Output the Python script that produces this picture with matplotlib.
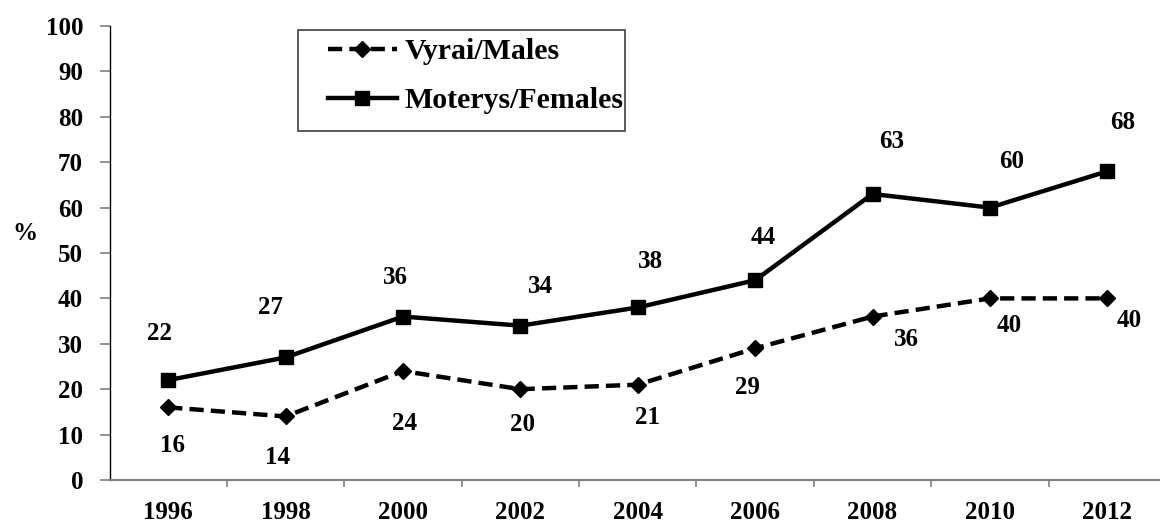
import matplotlib
matplotlib.use("Agg")
import matplotlib.pyplot as plt
from matplotlib.patches import Rectangle
from matplotlib.ticker import FixedLocator, NullFormatter

plt.rcParams['font.family'] = ['Liberation Serif', 'DejaVu Serif']
plt.rcParams['font.weight'] = 'bold'

years = ['1996', '1998', '2000', '2002', '2004', '2006', '2008', '2010', '2012']
males = [16, 14, 24, 20, 21, 29, 36, 40, 40]
females = [22, 27, 36, 34, 38, 44, 63, 60, 68]
males_label = 'Vyrai/Males'
females_label = 'Moterys/Females'

# label offsets in pixels (dx, dy) relative to the point (up positive)
fem_off = [(-9, 47), (-15, 50), (-8, 39), (20, 39), (13, 46), (8, 43), (19, 52), (22, 46), (15, 49)]
mal_off = [(4, -38), (-8, -41), (2, -52), (2, -35), (10, -33), (-8, -39), (34, -23), (19, -27), (22, -22)]

W, H = 1160, 522
fig = plt.figure(figsize=(W / 100, H / 100), dpi=100)
x0, x1 = 109.5, 1166.0
y0, y1 = 480.0, 26.0
ax = fig.add_axes([x0 / W, 1 - y0 / H, (x1 - x0) / W, (y0 - y1) / H])

xs = list(range(len(years)))
ln_m, = ax.plot(xs, males, color='black', lw=3.2, linestyle=(0, (3.2, 1.6)),
                marker='D', markersize=8, label=males_label, clip_on=False)
ln_f, = ax.plot(xs, females, color='black', lw=3.2, linestyle='-',
                marker='s', markersize=9.5, label=females_label, clip_on=False)

ax.set_xlim(-0.5, len(years) - 0.5)
ax.set_ylim(0, 100)
ax.set_yticks(range(0, 101, 10))
ax.set_xticks(xs)
ax.set_xticklabels(years)
ax.xaxis.set_minor_locator(FixedLocator([i + 0.5 for i in range(len(years) - 1)]))
ax.xaxis.set_minor_formatter(NullFormatter())

for s in ['top', 'right']:
    ax.spines[s].set_visible(False)
ax.spines['left'].set_color('black')
ax.spines['left'].set_linewidth(1.0)
ax.spines['bottom'].set_color('#808080')
ax.spines['bottom'].set_linewidth(1.5)

ax.tick_params(axis='y', direction='out', length=7, width=1.2, color='#808080',
               pad=12, labelsize=18)
ax.tick_params(axis='x', which='major', length=0, pad=15, labelsize=18)
ax.tick_params(axis='x', which='minor', direction='out', length=5, width=1.2, color='#808080')
for lab in ax.get_xticklabels() + ax.get_yticklabels():
    lab.set_fontweight('bold')

for i, v in enumerate(females):
    dx, dy = fem_off[i]
    ax.annotate(str(v), (xs[i], v), xytext=(dx, dy), textcoords='offset pixels',
                ha='center', va='center', fontsize=18, fontweight='bold',
                annotation_clip=False)
for i, v in enumerate(males):
    dx, dy = mal_off[i]
    ax.annotate(str(v), (xs[i], v), xytext=(dx, dy), textcoords='offset pixels',
                ha='center', va='center', fontsize=18, fontweight='bold',
                annotation_clip=False)

fig.text(25 / W, 1 - 233 / H, '%', ha='center', va='center', fontsize=18, fontweight='bold')

# legend
leg = fig.legend(handles=[ln_m, ln_f], loc='upper left',
                 bbox_to_anchor=(328 / W, 1 - 38 / H), frameon=False,
                 prop={'family': ['Liberation Serif'], 'weight': 'bold', 'size': 21.5},
                 handlelength=2.3, handletextpad=0.25, labelspacing=0.75,
                 borderpad=0, borderaxespad=0)
fig.patches.append(Rectangle((298 / W, 1 - 131 / H), (625 - 298) / W, (131 - 30) / H,
                             transform=fig.transFigure, fill=False,
                             edgecolor='#404040', linewidth=1.2))

fig.savefig('out.png', dpi=100)
